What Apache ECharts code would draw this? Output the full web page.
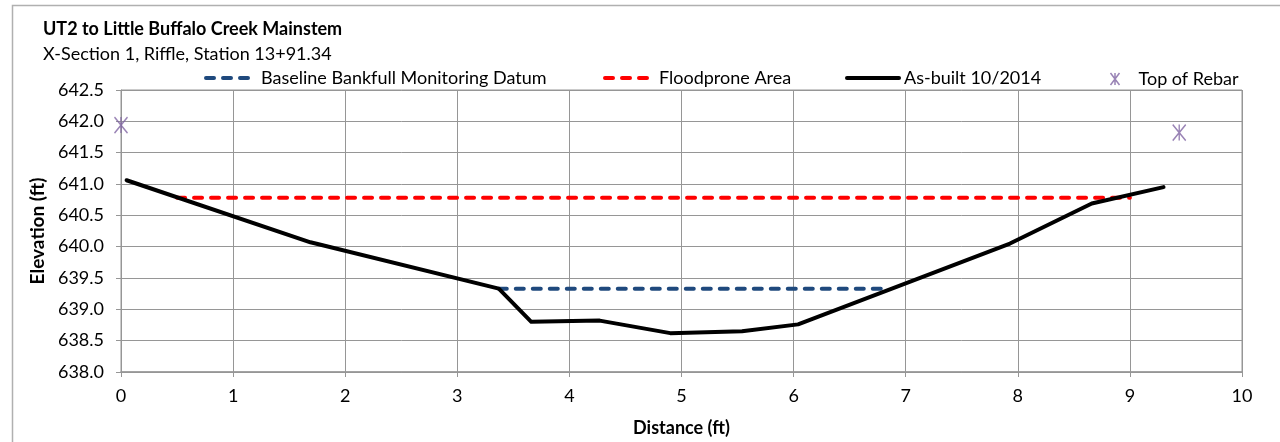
<!DOCTYPE html>
<html>
<head>
<meta charset="utf-8">
<script src="https://cdn.jsdelivr.net/npm/echarts@6/dist/echarts.min.js"></script>
<style>
  html, body { margin: 0; padding: 0; background: #fff; }
  #chart { width: 1280px; height: 442px; }
</style>
</head>
<body>
<div id="chart"></div>
<script>
// Cross-section survey, UT2 to Little Buffalo Creek, X-Section 1
const titleText = 'UT2 to Little Buffalo Creek Mainstem';
const subtitleText = 'X-Section 1, Riffle, Station 13+91.34';

// As-built ground profile: [distance (ft), elevation (ft)]
const asBuilt = [
  [0.05, 641.06], [1.69, 640.07], [3.37, 639.33], [3.66, 638.80],
  [4.27, 638.82], [4.90, 638.62], [5.54, 638.65], [6.04, 638.76],
  [7.93, 640.05], [8.66, 640.69], [9.30, 640.95]
];
// Baseline bankfull monitoring datum
const bankfull = [[3.37, 639.33], [6.85, 639.33]];
// Floodprone area elevation
const floodprone = [[0.50, 640.78], [9.00, 640.78]];
// Top of rebar monuments
const rebar = [[0.00, 641.94], [9.44, 641.82]];

const xTicks = { min: 0, max: 10, interval: 1 };
const yTicks = { min: 638.0, max: 642.5, interval: 0.5 };

const FONT = 'Lato';
const GRID = '#969696';
const DASH = [8, 9];
const asterisk = 'path://M0,0L12,16M12,0L0,16M6,0L6,16';

const chart = echarts.init(document.getElementById('chart'), null, { renderer: 'canvas' });

// line legends show only the stroke, no marker in the middle
const lineLegend = {
  top: 64,
  itemHeight: 14,
  itemStyle: { color: 'rgba(0,0,0,0)', borderWidth: 0, opacity: 0 },
  textStyle: { fontFamily: FONT, fontSize: 18, color: '#000' }
};
const txt = pad => Object.assign({}, lineLegend.textStyle, { padding: [0, 0, 0, pad] });

chart.setOption({
  animation: false,
  backgroundColor: '#fff',
  title: [
    { text: titleText, left: 38, top: 15,
      textStyle: { fontFamily: FONT, fontSize: 18, fontWeight: 'bold', color: '#000' } },
    { text: subtitleText, left: 38, top: 40,
      textStyle: { fontFamily: FONT, fontSize: 18, fontWeight: 'normal', color: '#000' } }
  ],
  legend: [
    Object.assign({}, lineLegend, { left: 199, itemWidth: 47, data: ['Baseline Bankfull Monitoring Datum'],
      lineStyle: { width: 4, type: DASH, cap: 'round' }, textStyle: txt(3) }),
    Object.assign({}, lineLegend, { left: 598, itemWidth: 46, data: ['Floodprone Area'],
      lineStyle: { width: 4, type: DASH, cap: 'round' }, textStyle: txt(3) }),
    Object.assign({}, lineLegend, { left: 840, itemWidth: 52, data: ['As-built 10/2014'],
      lineStyle: { width: 4, cap: 'round' }, textStyle: txt(0) }),
    { top: 65, left: 1103, itemWidth: 11, itemHeight: 12, data: ['Top of Rebar'],
      itemStyle: { color: 'none', borderColor: '#8064A2', borderWidth: 1.5 },
      textStyle: txt(13) }
  ],
  grid: { left: 121, right: 38, top: 90, bottom: 70, show: true, borderColor: GRID, borderWidth: 1 },
  xAxis: {
    type: 'value', min: xTicks.min, max: xTicks.max, interval: xTicks.interval,
    name: 'Distance (ft)', nameLocation: 'middle', nameGap: 47,
    nameTextStyle: { fontFamily: FONT, fontSize: 18, fontWeight: 'bold', color: '#000' },
    axisLine: { lineStyle: { color: GRID, width: 1.5 } },
    axisTick: { show: true, length: 5, lineStyle: { color: GRID } },
    axisLabel: { fontFamily: FONT, fontSize: 18, color: '#000', margin: 15 },
    splitLine: { show: true, lineStyle: { color: GRID, width: 1 } }
  },
  yAxis: {
    type: 'value', min: yTicks.min, max: yTicks.max, interval: yTicks.interval,
    name: 'Elevation (ft)', nameLocation: 'middle', nameGap: 72, nameRotate: 90,
    nameTextStyle: { fontFamily: FONT, fontSize: 19, fontWeight: 'bold', color: '#000' },
    axisLine: { show: true, lineStyle: { color: GRID, width: 1 } },
    axisTick: { show: true, length: 5, lineStyle: { color: GRID } },
    axisLabel: { fontFamily: FONT, fontSize: 18, color: '#000', margin: 17,
      formatter: v => v.toFixed(1) },
    splitLine: { show: true, lineStyle: { color: GRID, width: 1 } }
  },
  series: [
    { name: 'Baseline Bankfull Monitoring Datum', type: 'line', data: bankfull,
      symbol: 'none', color: '#1F497D',
      lineStyle: { color: '#1F497D', width: 4, type: DASH, cap: 'round' } },
    { name: 'Floodprone Area', type: 'line', data: floodprone,
      symbol: 'none', color: '#FF0000',
      lineStyle: { color: '#FF0000', width: 4, type: DASH, cap: 'round' } },
    { name: 'As-built 10/2014', type: 'line', data: asBuilt,
      symbol: 'none', color: '#000',
      lineStyle: { color: '#000', width: 4, cap: 'round', join: 'round' } },
    { name: 'Top of Rebar', type: 'scatter', data: rebar,
      symbol: asterisk, symbolSize: [13, 16], color: '#8064A2',
      itemStyle: { color: 'none', borderColor: '#8064A2', borderWidth: 1.5 } }
  ],
  graphic: [
    { type: 'rect', silent: true, z: -1,
      shape: { x: 12.5, y: 5.5, width: 1300, height: 450 },
      style: { fill: 'none', stroke: '#b0b0b0', lineWidth: 1.5 } }
  ]
});
</script>
</body>
</html>
